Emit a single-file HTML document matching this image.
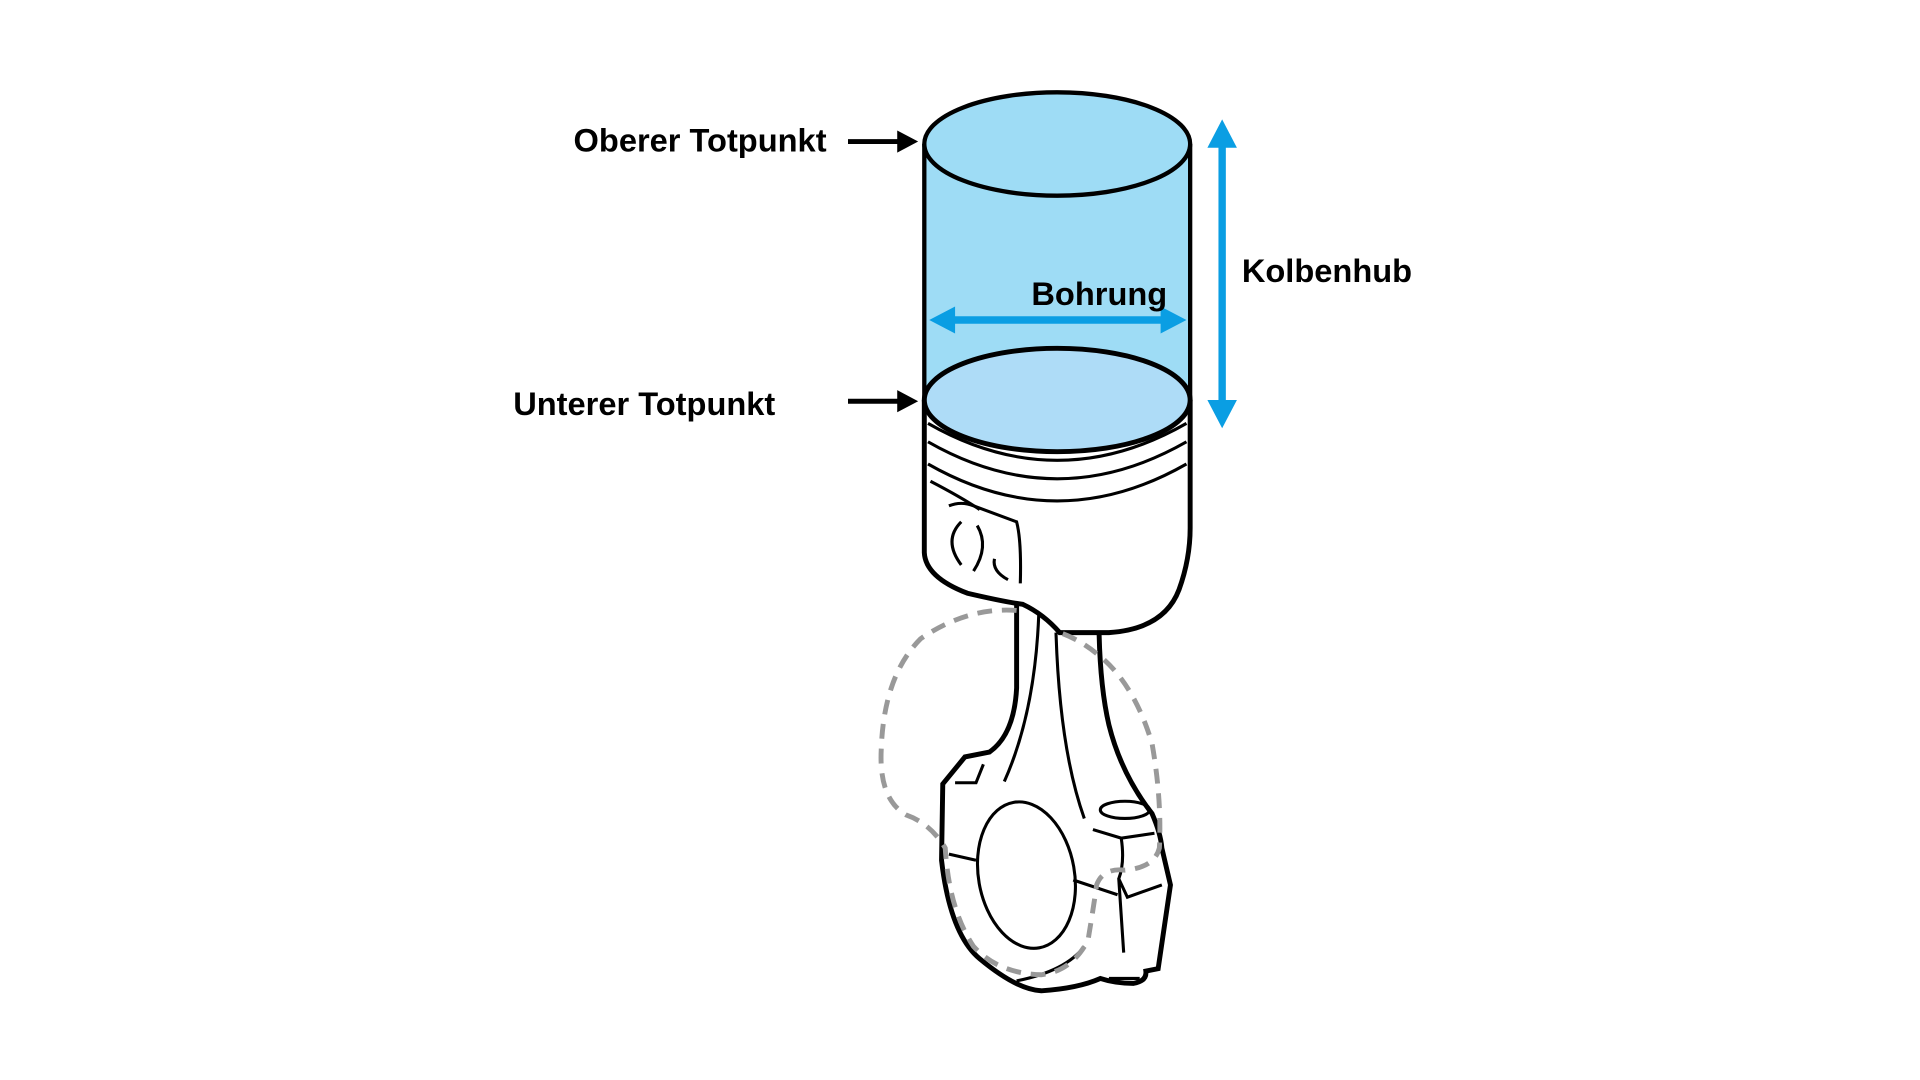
<!DOCTYPE html>
<html><head><meta charset="utf-8"><style>
html,body{margin:0;padding:0;background:#fff;}
svg{display:block}
text{font-family:"Liberation Sans",Arial,sans-serif;font-weight:bold;fill:#000}
</style></head><body>
<svg width="1920" height="1080" viewBox="0 0 1560 877.5" preserveAspectRatio="none">
<g transform="translate(-4,-1)">
<!-- cylinder -->
<path d="M755,118 L755,326 L971,326 L971,118 Z" fill="#9edcf5"/>
<ellipse cx="863" cy="118" rx="108" ry="42" fill="#9edcf5" stroke="#000" stroke-width="3.5"/>
<line x1="755" y1="118" x2="755" y2="326" stroke="#000" stroke-width="3.5"/>
<line x1="971" y1="118" x2="971" y2="326" stroke="#000" stroke-width="3.5"/>
<!-- piston body -->
<path d="M755,326 L755,450 Q756,470 790,483 Q820,490 835,492 Q852,500 865,515 L905,515 Q950,512 962,480 Q971,455 971,430 L971,326" fill="#fff" stroke="#000" stroke-width="4"/>
<ellipse cx="863" cy="326" rx="108" ry="42" fill="#aedcf7" stroke="#000" stroke-width="4"/>
<path d="M758,345 Q863,405 968,345" fill="none" stroke="#000" stroke-width="2.5"/>
<path d="M758,360 Q863,420 968,360" fill="none" stroke="#000" stroke-width="2.5"/>
<path d="M758,378 Q863,438 968,378" fill="none" stroke="#000" stroke-width="2.5"/>
<path d="M760,392 Q785,405 800,415" fill="none" stroke="#000" stroke-width="2.5"/>
<path d="M775,412 Q785,408 795,412 L830,425 Q834,440 833,475" fill="none" stroke="#000" stroke-width="2.5"/>
<path d="M785,425 Q770,440 785,460" fill="none" stroke="#000" stroke-width="2.5"/>
<path d="M798,428 Q808,445 795,465 M812,455 Q810,465 823,472" fill="none" stroke="#000" stroke-width="2.5"/>
<!-- rod -->
<path d="M830,492 L830,560 Q828,598 808,612 L788,616 L770,638 L769,700 Q776,760 800,780 Q830,805 850,806 Q880,804 898,796 Q910,800 925,800 Q936,798 935,790 L945,788 L955,720 L948,690 Q947,678 940,662 Q915,630 905,590 Q898,560 897,515" fill="none" stroke="#000" stroke-width="4"/>
<path d="M848,500 Q845,580 820,636" fill="none" stroke="#000" stroke-width="2.5"/>
<path d="M862,515 Q865,610 885,666" fill="none" stroke="#000" stroke-width="2.5"/>
<path d="M780,637 L797,637 L803,622" fill="none" stroke="#000" stroke-width="2.5"/>
<ellipse cx="838" cy="712" rx="39" ry="60" transform="rotate(-10 838 712)" fill="#fff" stroke="#000" stroke-width="2.5"/>
<ellipse cx="918" cy="659" rx="20" ry="7" fill="none" stroke="#000" stroke-width="2.5"/>
<path d="M892,675 L915,682 L942,678 M915,682 Q918,702 913,715 L920,730 L948,720 M876,716 L912,728 M775,695 L797,700 M913,715 L917,775 M905,796 L930,796 M830,798 Q870,790 885,770" fill="none" stroke="#000" stroke-width="2.5"/>
<!-- dashed -->
<path d="M830,497 Q790,494 752,520 Q722,550 720,610 Q718,650 740,663 Q760,670 772,690 Q775,740 795,770 Q815,792 850,793 Q875,790 888,765 Q893,735 895,720 Q900,706 918,708 Q942,706 946,690 Q948,650 940,605 Q925,555 895,532 Q880,520 865,515" fill="none" stroke="#999" stroke-width="4" stroke-dasharray="12,8"/>
<!-- black arrows -->
<line x1="693" y1="116" x2="735" y2="116" stroke="#000" stroke-width="4"/>
<path d="M733,107 L750,116 L733,125 Z" fill="#000"/>
<line x1="693" y1="327" x2="735" y2="327" stroke="#000" stroke-width="4"/>
<path d="M733,318 L750,327 L733,336 Z" fill="#000"/>
<!-- blue arrows -->
<line x1="997" y1="115" x2="997" y2="332" stroke="#0a9ee3" stroke-width="6"/>
<path d="M985,121 L997,98 L1009,121 Z M985,326 L997,349 L1009,326 Z" fill="#0a9ee3"/>
<line x1="775" y1="261" x2="952" y2="261" stroke="#0a9ee3" stroke-width="6"/>
<path d="M780,250 L759,261 L780,272 Z M947,250 L968,261 L947,272 Z" fill="#0a9ee3"/>
</g>
<!-- labels -->
<text x="466" y="123" font-size="26.5">Oberer Totpunkt</text>
<text x="417" y="337" font-size="26.5">Unterer Totpunkt</text>
<text x="838" y="248" font-size="26.5">Bohrung</text>
<text x="1009" y="229" font-size="26.5">Kolbenhub</text>
</svg>
</body></html>
